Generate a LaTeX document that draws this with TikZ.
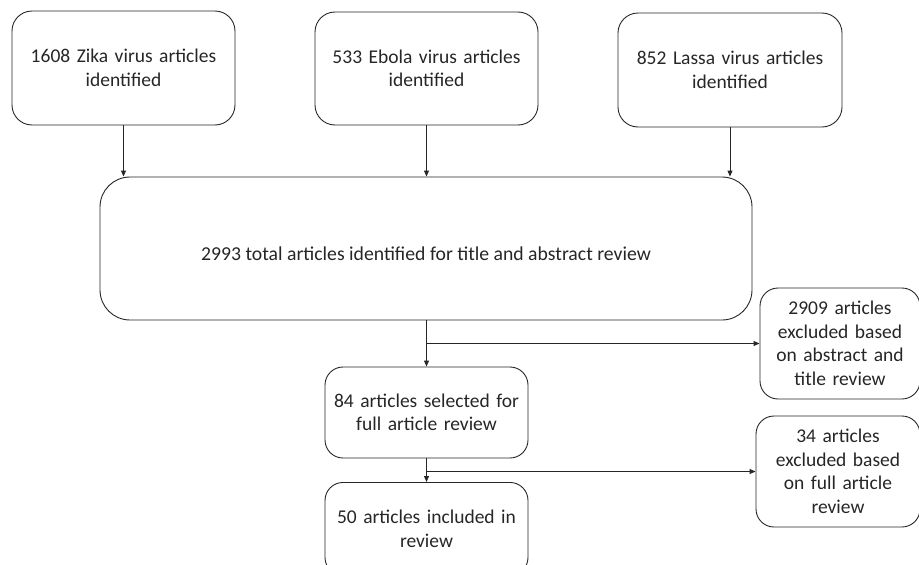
\documentclass[tikz,border=0pt]{standalone}
\usepackage{fontspec}
\setmainfont{Carlito}
\usetikzlibrary{arrows.meta}
\begin{document}
\begin{tikzpicture}[x=1pt,y=-1pt,
  box/.style={draw=black!85, line width=0.9pt, rounded corners=#1, align=center, font=\fontsize{19.5}{23.5}\selectfont, inner sep=0pt, text=black!85},
  box/.default=20pt,
  arr/.style={draw=black!85, line width=0.9pt, -{Triangle[length=6pt,width=5pt]}}]
\useasboundingbox (0,0) rectangle (919,565);
% top boxes
\node[box, minimum width=223pt, minimum height=114pt, text width=215pt] (zika) at (123.5,68) {1608 Zika virus articles\\identified};
\node[box, minimum width=223pt, minimum height=113pt, text width=215pt] (ebola) at (426.5,68.5) {533 Ebola virus articles\\identified};
\node[box, minimum width=224pt, minimum height=114pt, text width=215pt] (lassa) at (730,70) {852 Lassa virus articles\\identified};
% big box
\node[box=30pt, minimum width=652pt, minimum height=143pt] (total) at (426,248.5) {};
\node[font=\fontsize{19.7}{23.5}\selectfont, inner sep=0pt, text=black!85] (totaltext) at (426,254) {2993 total articles identified for title and abstract review};
% side boxes
\node[box=18pt, minimum width=160pt, minimum height=111pt, text width=155pt] (ex1) at (840,343.5) {2909 articles\\excluded based\\on abstract and\\title review};
\node[box=18pt, minimum width=164pt, minimum height=111pt, text width=158pt] (ex2) at (838,471.5) {34 articles\\excluded based\\on full article\\review};
% lower boxes
\node[box=18pt, minimum width=203pt, minimum height=91pt, text width=198pt] (sel) at (426.5,412.5) {84 articles selected for\\full article review};
\node[box=18pt, minimum width=203pt, minimum height=93pt, text width=198pt, anchor=north] (inc) at (426.5,482) {50 articles included in\\review};
% connectors
\draw[arr] (zika.south) -- (zika.south |- total.north);
\draw[arr] (ebola.south) -- (ebola.south |- total.north);
\draw[arr] (lassa.south) -- (lassa.south |- total.north);
\draw[arr] (total.south -| sel.north) -- (sel.north);
\coordinate (b1) at (sel.north |- ex1.west);
\draw[arr] (b1) -- (ex1.west);
\draw[arr] (sel.south) -- (inc.north);
\coordinate (b2) at (sel.south |- ex2.west);
\draw[arr] (b2) -- (ex2.west);
\end{tikzpicture}
\end{document}
